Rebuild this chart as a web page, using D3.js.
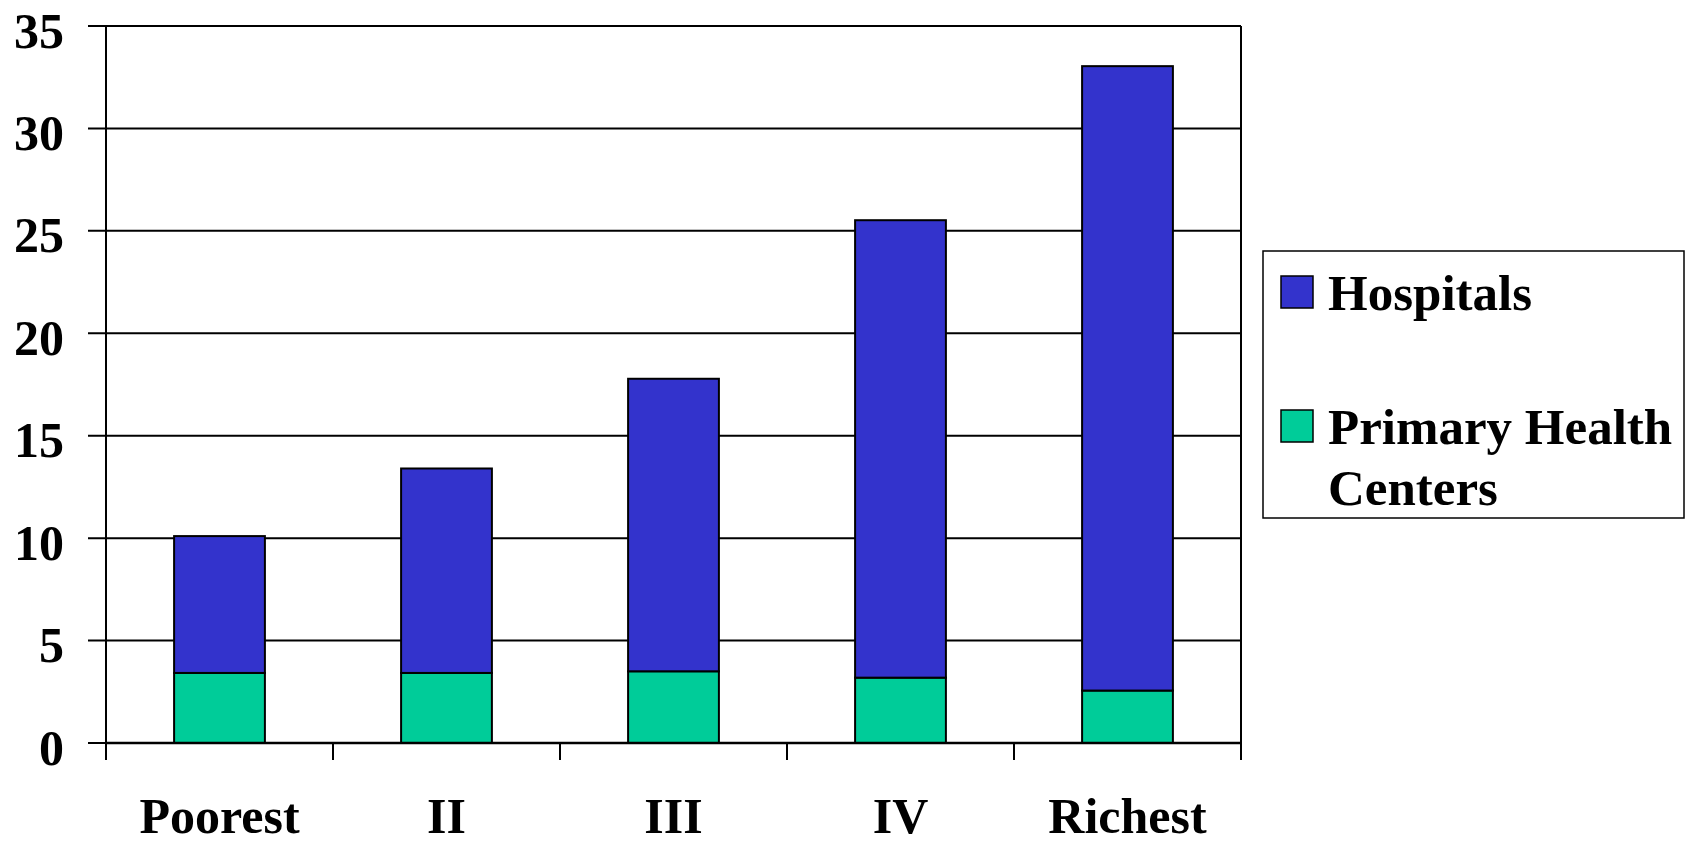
<!DOCTYPE html>
<html>
<head>
<meta charset="utf-8">
<script src="https://cdn.jsdelivr.net/npm/d3@7"></script>
<style>
  html, body { margin: 0; padding: 0; background: #fff; }
  svg { display: block; }
  text { font-family: "Liberation Serif", "Times New Roman", serif; font-weight: bold; fill: #000; }
</style>
</head>
<body>
<svg id="chart" width="1686" height="846"></svg>
<script>
const categories = ["Poorest", "II", "III", "IV", "Richest"];
const primaryHealthCenters = [3.42, 3.42, 3.5, 3.19, 2.56];
const hospitals = [6.68, 9.98, 14.28, 22.33, 30.48];
const yTicks = [0, 5, 10, 15, 20, 25, 30, 35];
const seriesNames = ["Hospitals", "Primary Health Centers"];
const colors = { phc: "#00CC99", hosp: "#3333CC" };

const svg = d3.select("#chart");
const pLeft = 106, pRight = 1241, pTop = 26, pBottom = 743;

const x = d3.scaleBand().domain(categories).range([pLeft, pRight]).paddingInner(0).paddingOuter(0);
const xBar = d3.scaleBand().domain(categories).range([pLeft, pRight]).paddingInner(0.6).paddingOuter(0.3);
const y = d3.scaleLinear().domain([0, 35]).range([pBottom, pTop]);

const rows = categories.map((c, i) => ({ cat: c, phc: primaryHealthCenters[i], hosp: hospitals[i] }));
const stacked = d3.stack().keys(["phc", "hosp"])(rows);

// gridlines
svg.append("g").selectAll("line").data(yTicks).join("line")
  .attr("x1", pLeft - 18).attr("x2", pRight)
  .attr("y1", d => y(d)).attr("y2", d => y(d))
  .attr("stroke", "#000").attr("stroke-width", 2);

// right border
svg.append("line").attr("x1", pRight).attr("x2", pRight).attr("y1", y(35)).attr("y2", pBottom + 17)
  .attr("stroke", "#000").attr("stroke-width", 2);

// bars
svg.append("g").selectAll("g").data(stacked).join("g")
  .attr("fill", d => colors[d.key])
  .selectAll("rect").data(d => d).join("rect")
  .attr("x", d => xBar(d.data.cat))
  .attr("width", xBar.bandwidth())
  .attr("y", d => y(d[1]))
  .attr("height", d => y(d[0]) - y(d[1]))
  .attr("stroke", "#000").attr("stroke-width", 2);

// y axis
const yAxis = d3.axisLeft(y).tickValues(yTicks).tickSize(0).tickPadding(0);
const ga = svg.append("g").attr("transform", `translate(${pLeft},0)`).call(yAxis);
ga.select(".domain").remove();
ga.selectAll("text").attr("x", -42).attr("dy", null).attr("y", 21)
  .style("font-size", "50px").attr("text-anchor", "end")
  .attr("font-family", null);
svg.append("line").attr("x1", pLeft).attr("x2", pLeft).attr("y1", pTop).attr("y2", pBottom + 17)
  .attr("stroke", "#000").attr("stroke-width", 2);

// x axis
const xAxis = d3.axisBottom(x).tickSize(0).tickFormat("");
const gx = svg.append("g").attr("transform", `translate(0,${pBottom})`).call(xAxis);
gx.select(".domain").remove();
svg.append("line").attr("x1", pLeft).attr("x2", pRight).attr("y1", pBottom).attr("y2", pBottom)
  .attr("stroke", "#000").attr("stroke-width", 2.5);
const boundaries = categories.map(c => x(c)).concat([x(categories[categories.length - 1]) + x.bandwidth()]);
svg.append("g").selectAll("line").data(boundaries).join("line")
  .attr("x1", d => d).attr("x2", d => d).attr("y1", pBottom).attr("y2", pBottom + 17)
  .attr("stroke", "#000").attr("stroke-width", 2);
svg.append("g").selectAll("text").data(categories).join("text")
  .attr("x", d => x(d) + x.bandwidth() / 2).attr("y", 833)
  .attr("text-anchor", "middle").style("font-size", "50px").text(d => d);

// legend
const lg = svg.append("g");
lg.append("rect").attr("x", 1263).attr("y", 251).attr("width", 421).attr("height", 267)
  .attr("fill", "#fff").attr("stroke", "#000").attr("stroke-width", 1.5);
const legendItems = [
  { name: seriesNames[0], color: colors.hosp, sy: 276, lines: ["Hospitals"], base: 310 },
  { name: seriesNames[1], color: colors.phc, sy: 410, lines: ["Primary Health", "Centers"], base: 444 }
];
legendItems.forEach(it => {
  lg.append("rect").attr("x", 1281).attr("y", it.sy).attr("width", 32).attr("height", 32)
    .attr("fill", it.color).attr("stroke", "#000").attr("stroke-width", 1.5);
  const t = lg.append("text").attr("x", 1328).attr("y", it.base).style("font-size", "51px");
  it.lines.forEach((l, i) => {
    t.append("tspan").attr("x", 1328).attr("y", it.base + i * 61).text(l);
  });
});
</script>
</body>
</html>
